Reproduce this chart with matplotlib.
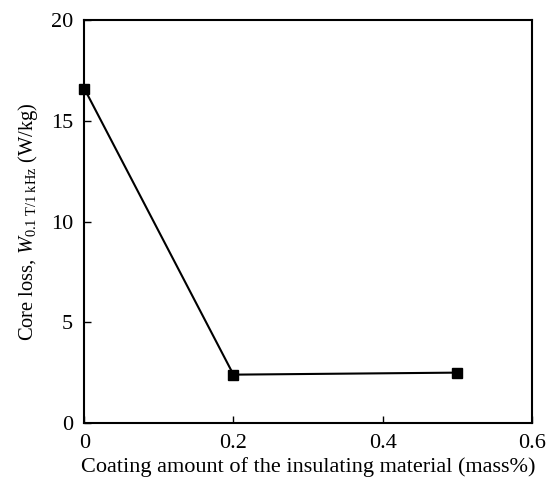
import matplotlib
matplotlib.use("Agg")
import matplotlib.pyplot as plt

# coating amount (mass%) vs core loss W0.1T/1kHz (W/kg)
coating = [0.0, 0.2, 0.5]
core_loss = [16.6, 2.4, 2.5]

plt.rcParams['font.family'] = ['Liberation Serif', 'DejaVu Serif']
plt.rcParams['mathtext.fontset'] = 'custom'
plt.rcParams['mathtext.rm'] = 'Liberation Serif'
plt.rcParams['mathtext.it'] = 'Liberation Serif:italic'

fig = plt.figure(figsize=(5.51, 4.82), dpi=100)
ax = fig.add_axes([0.153, 0.1224, 0.812, 0.836])

ax.plot(coating, core_loss, color='black', lw=1.5, marker='s',
        markersize=7.5, markerfacecolor='black', clip_on=False)

ax.set_xlim(0, 0.6)
ax.set_ylim(0, 20)
ax.set_xticks([0, 0.2, 0.4, 0.6])
ax.set_xticklabels(['0', '0.2', '0.4', '0.6'])
ax.set_yticks([0, 5, 10, 15, 20])
ax.tick_params(direction='in', length=5, width=1, labelsize=16, pad=8)
for s in ax.spines.values():
    s.set_linewidth(1.5)

ax.set_xlabel('Coating amount of the insulating material (mass%)', fontsize=16, labelpad=3)
ax.set_ylabel(r'Core loss, $W_{\mathrm{0.1\ T/1\ kHz}}$ (W/kg)', fontsize=14.8, labelpad=8)

fig.savefig('out.png', dpi=100)
